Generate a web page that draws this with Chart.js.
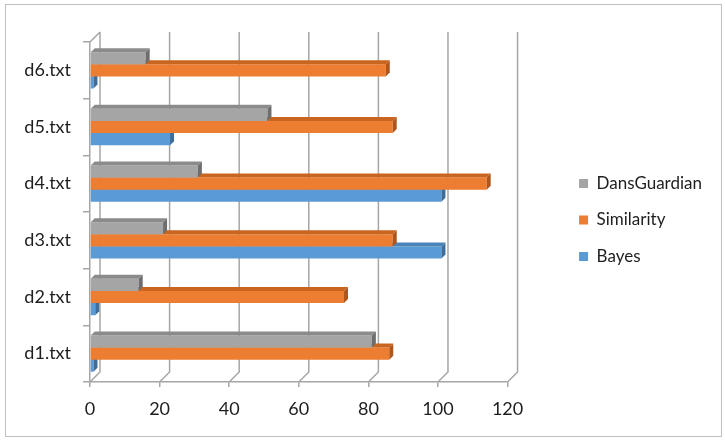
<!DOCTYPE html>
<html>
<head>
<meta charset="utf-8">
<script src="https://cdn.jsdelivr.net/npm/chart.js@4.4.1/dist/chart.umd.min.js"></script>
<style>
  html, body { margin: 0; padding: 0; background: #fff; }
  .wrap { position: relative; width: 725px; height: 448px; }
  .frame { position: absolute; left: 5px; top: 4px; width: 717px; height: 433px; border: 1px solid #bfbfbf; box-sizing: border-box; }
  canvas { position: absolute; left: 0; top: 0; }
</style>
</head>
<body>
<div class="wrap">
  <div class="frame"></div>
  <canvas id="chart" width="725" height="448"></canvas>
</div>
<script>
// Data
const categories = ["d1.txt", "d2.txt", "d3.txt", "d4.txt", "d5.txt", "d6.txt"];
const bayes = [1, 1.5, 101, 101, 23, 1];
const similarity = [86, 73, 87, 114, 87, 85];
const dansGuardian = [81, 14, 21, 31, 51, 16];
const xTicks = [0, 20, 40, 60, 80, 100, 120];

const DEPTH = 4;   // 3D look of the bars
const WALL = 10;   // offset of the back wall
const gridColor = "#a6a6a6";
const textColor = "#1e1e1e";

Chart.defaults.font.family = "Lato";

// back wall grid lines + floor diagonals
const wallPlugin = {
  id: "wall",
  beforeDatasetsDraw(chart) {
    const { ctx, chartArea: a, scales: { x } } = chart;
    ctx.save();
    ctx.strokeStyle = gridColor;
    ctx.lineWidth = 1.5;
    ctx.beginPath();
    xTicks.forEach((v) => {
      const px = x.getPixelForValue(v);
      ctx.moveTo(px + WALL, a.top - WALL);
      ctx.lineTo(px + WALL, a.bottom - WALL);
      ctx.lineTo(px, a.bottom);
    });
    ctx.moveTo(a.left, a.top);
    ctx.lineTo(a.left + WALL, a.top - WALL);
    ctx.stroke();
    ctx.restore();
  },
};

// top and side faces of each bar
const depthPlugin = {
  id: "depthBars",
  afterDatasetDraw(chart, args) {
    const ds = chart.data.datasets[args.index];
    const ctx = chart.ctx;
    ctx.save();
    args.meta.data.forEach((bar) => {
      const { x, y, base, height } = bar.getProps(["x", "y", "base", "height"], true);
      const top = y - height / 2;
      const bottom = y + height / 2;
      ctx.fillStyle = ds.topColor;
      ctx.beginPath();
      ctx.moveTo(base, top);
      ctx.lineTo(x, top);
      ctx.lineTo(x + DEPTH, top - DEPTH);
      ctx.lineTo(base + DEPTH, top - DEPTH);
      ctx.closePath();
      ctx.fill();
      ctx.fillStyle = ds.sideColor;
      ctx.beginPath();
      ctx.moveTo(x, top);
      ctx.lineTo(x + DEPTH, top - DEPTH);
      ctx.lineTo(x + DEPTH, bottom - DEPTH);
      ctx.lineTo(x, bottom);
      ctx.closePath();
      ctx.fill();
    });
    ctx.restore();
  },
};

// move the legend a bit away from the plot, like in the original
const legendShift = {
  id: "legendShift",
  afterLayout(chart) {
    const lg = chart.legend;
    lg.left += 52;
    lg.right += 52;
    lg.top -= 12;
    lg.bottom -= 12;
  },
};

new Chart(document.getElementById("chart"), {
  type: "bar",
  data: {
    labels: categories,
    datasets: [
      {
        label: "DansGuardian",
        data: dansGuardian,
        backgroundColor: "#a5a5a5",
        topColor: "#8b8b8b",
        sideColor: "#6e6e6e",
      },
      {
        label: "Similarity",
        data: similarity,
        backgroundColor: "#ed7d31",
        topColor: "#c9651f",
        sideColor: "#b1561a",
      },
      {
        label: "Bayes",
        data: bayes,
        backgroundColor: "#5b9bd5",
        topColor: "#4a84ba",
        sideColor: "#3e6d9c",
      },
    ],
  },
  options: {
    indexAxis: "y",
    responsive: false,
    animation: false,
    categoryPercentage: 0.64,
    barPercentage: 1,
    layout: { padding: { left: 0, top: 42, right: 65, bottom: 26 } },
    plugins: {
      tooltip: { enabled: false },
      legend: {
        position: "right",
        align: "center",
        labels: {
          boxWidth: 9,
          boxHeight: 9,
          padding: 19.5,
          color: textColor,
          font: { size: 17 },
        },
      },
    },
    scales: {
      x: {
        min: 0,
        max: 120,
        afterBuildTicks: (s) => {
          s.ticks = xTicks.map((v) => ({ value: v }));
        },
        afterFit: (s) => {
          s.height = 40;
        },
        grid: { drawOnChartArea: false, tickLength: 5, color: gridColor, lineWidth: 1.5 },
        border: { color: gridColor, width: 1.5 },
        ticks: { padding: 11, color: textColor, font: { size: 18 } },
      },
      y: {
        reverse: true,
        afterFit: (s) => {
          s.width = 90;
        },
        grid: { drawOnChartArea: false, tickLength: 7, color: gridColor, lineWidth: 1.5 },
        border: { color: gridColor, width: 1.5 },
        ticks: { padding: 12, color: textColor, font: { size: 18 } },
      },
    },
  },
  plugins: [wallPlugin, depthPlugin, legendShift],
});
</script>
</body>
</html>
